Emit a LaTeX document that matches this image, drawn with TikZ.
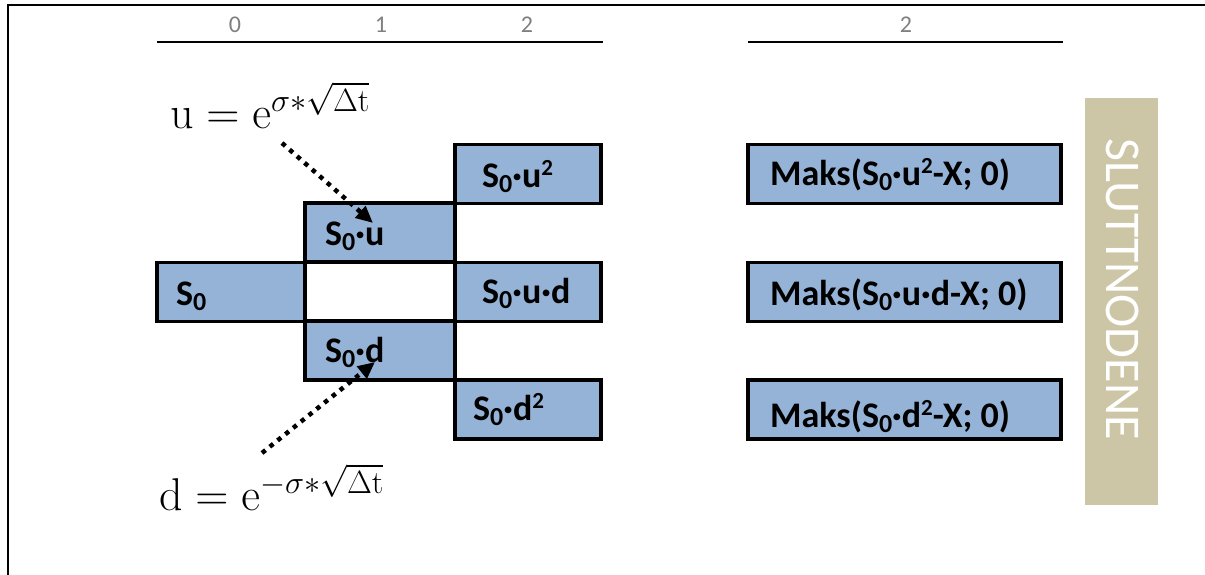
\RequirePackage{fix-cm}
\documentclass[tikz,border=0pt]{standalone}
\usepackage[no-math]{fontspec}
\setmainfont{Carlito}
\usetikzlibrary{arrows.meta}

\definecolor{cellblue}{HTML}{95B3D7}
\definecolor{tanbar}{HTML}{CDC6A6}
\definecolor{headgray}{HTML}{7F7F7F}

% subscript and superscript pieces of the bold labels
\newcommand{\lsub}[1]{\raisebox{-5pt}{\fontsize{26}{26}\selectfont #1}}
\newcommand{\lsup}[1]{\raisebox{12pt}{\fontsize{23}{23}\selectfont #1}}

\tikzset{
  cell/.style={draw=black, fill=cellblue, line width=3.5pt, rectangle,
    inner sep=0pt, minimum height=59pt},
  lbl/.style={anchor=base west, inner sep=0pt, font=\fontsize{36}{38}\selectfont\bfseries},
  head/.style={anchor=base, inner sep=0pt, text=headgray, font=\fontsize{24}{25}\selectfont},
  rule/.style={line width=2pt},
  formula/.style={anchor=base west, inner sep=0pt, font=\fontsize{46}{54}\selectfont},
  dotarrow/.style={line width=4.5pt, dash pattern=on 4.5pt off 5.5pt,
    -{Triangle[length=17pt,width=15pt]}}
}

\begin{document}
\begin{tikzpicture}[x=1pt,y=-1pt]
\useasboundingbox (0,0) rectangle (1205,574);

% frame
\draw[line width=1.5pt] (8,580) -- (8,5) -- (1210,5);

% time axis headers
\coordinate (hl1) at (157,42);
\coordinate (hr1) at (603,42);
\coordinate (hl2) at (748,42);
\coordinate (hr2) at (1063,42);
\draw[rule] (hl1) -- (hr1);
\draw[rule] (hl2) -- (hr2);
\node[head] (h0) at (235,32) {0};
\node[head] (h1) at (381,32) {1};
\node[head] (h2) at (527,32) {2};
\node[head] (h2b) at (906,32) {2};

% binomial tree cells
\node[cell, minimum width=148pt] (s0)  at (231,292) {};
\node[cell, minimum width=150pt] (s0u) at (380,232.5) {};
\node[cell, minimum width=150pt] (s0d) at (380,350.5) {};
\node[cell, minimum width=146pt] (s0uu) at (528,174) {};
\node[cell, minimum width=146pt] (s0ud) at (528,292) {};
\node[cell, minimum width=146pt] (s0dd) at (528,409.5) {};

\node[lbl] (t0)  at (176,305) {S\lsub{0}};
\node[lbl] (tu)  at (325,245) {S\lsub{0}·u};
\node[lbl] (td)  at (325,362) {S\lsub{0}·d};
\node[lbl] (tuu) at (482,187) {S\lsub{0}·u\lsup{2}};
\node[lbl] (tud) at (482,303) {S\lsub{0}·u·d};
\node[lbl] (tdd) at (473,420) {S\lsub{0}·d\lsup{2}};

% payoffs at the final nodes
\node[cell, minimum width=313pt] (p1) at (904.5,174) {};
\node[cell, minimum width=313pt] (p2) at (904.5,292) {};
\node[cell, minimum width=313pt] (p3) at (904.5,409.5) {};
\node[lbl] (q1) at (770,185) {Maks(S\lsub{0}·u\lsup{2}-X; 0)};
\node[lbl] (q2) at (770,305) {Maks(S\lsub{0}·u·d-X; 0)};
\node[lbl] (q3) at (770,427) {Maks(S\lsub{0}·d\lsup{2}-X; 0)};

% side bar
\node[rectangle, fill=tanbar, minimum width=73pt, minimum height=407pt, inner sep=0pt] (bar) at (1121.5,301.5) {};
\node[rotate=-90, text=white, inner sep=0pt, font=\fontsize{50}{52}\selectfont] (bartxt) at (1123,289) {SLUTTNODENE};

% up and down factors
\node[formula] (ueq) at (170,128) {$\mathrm{u}=\mathrm{e}^{\sigma*\sqrt{\Delta\mathrm{t}}}$};
\node[formula] (deq) at (159,510) {$\mathrm{d}=\mathrm{e}^{-\sigma*\sqrt{\Delta\mathrm{t}}}$};

\coordinate (uTail) at (282,143);
\coordinate (uTip) at (373,223);
\coordinate (dTail) at (262,453);
\coordinate (dTip) at (375,362);
\draw[dotarrow] (uTail) -- (uTip);
\draw[dotarrow] (dTail) -- (dTip);
\end{tikzpicture}
\end{document}
